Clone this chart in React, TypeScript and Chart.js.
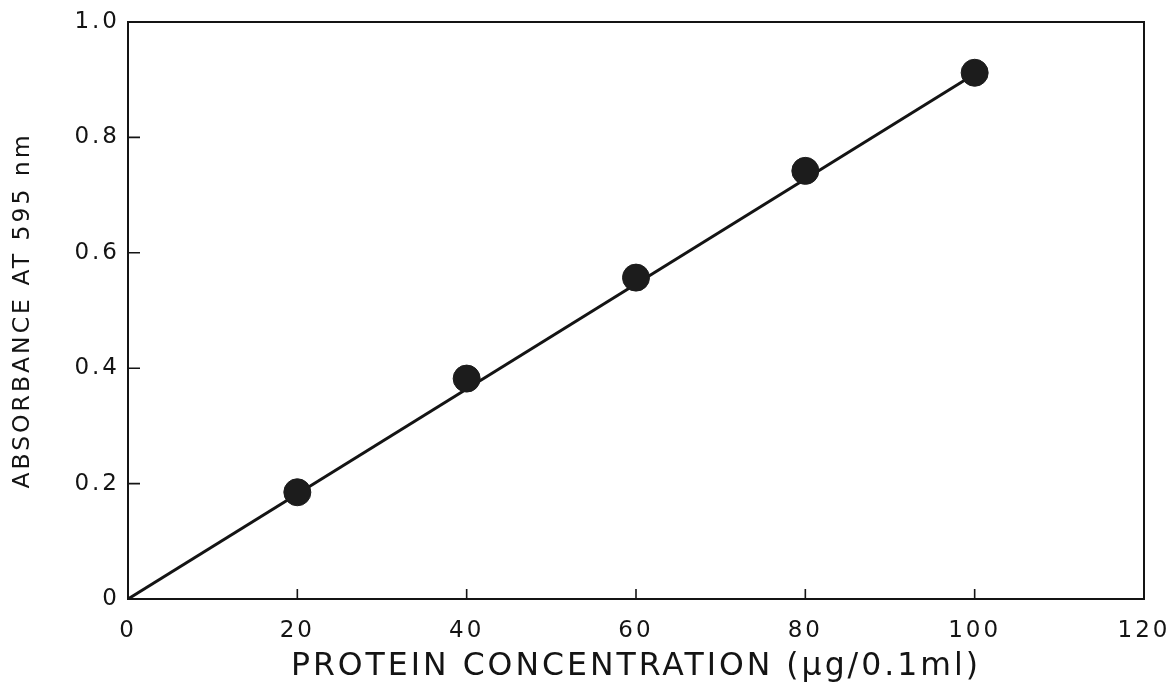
import React, { useEffect, useRef } from "react";
import { Chart, registerables } from "chart.js";

Chart.register(...registerables);

const concentrations = [20, 40, 60, 80, 100];
const absorbances = [0.185, 0.382, 0.557, 0.742, 0.912];
const fitX = [0, 100];
const fitY = [0, 0.91];
const xTickLabels = ["0", "20", "40", "60", "80", "100", "120"];
const yTickLabels = ["0", "0.2", "0.4", "0.6", "0.8", "1.0"];
const xTitle = "PROTEIN CONCENTRATION (\u00b5g/0.1ml)";
const yTitle = "ABSORBANCE AT 595 nm";

const INK = "#141414";
const FONT = "'DejaVu Sans', sans-serif";

const framePlugin = {
  id: "frame",
  beforeDraw(chart: any) {
    const ctx = chart.ctx;
    ctx.fillStyle = "#ffffff";
    ctx.fillRect(0, 0, chart.width, chart.height);
    (ctx as any).letterSpacing = "3px";
  },
  afterDraw(chart: any) {
    const ctx = chart.ctx;
    const a = chart.chartArea;
    const xs = chart.scales.x;
    const ys = chart.scales.y;
    ctx.save();
    ctx.strokeStyle = INK;
    ctx.lineWidth = 2;
    ctx.strokeRect(a.left, a.top, a.right - a.left, a.bottom - a.top);
    ctx.lineWidth = 1.6;
    ctx.beginPath();
    for (let v = 20; v <= 100; v += 20) {
      const px = xs.getPixelForValue(v);
      ctx.moveTo(px, a.bottom);
      ctx.lineTo(px, a.bottom - 10);
    }
    for (let v = 0.2; v <= 0.81; v += 0.2) {
      const py = ys.getPixelForValue(v);
      ctx.moveTo(a.left, py);
      ctx.lineTo(a.left + 12, py);
    }
    ctx.stroke();
    ctx.restore();
  },
};

export default function App() {
  const ref = useRef<HTMLCanvasElement>(null);
  useEffect(() => {
    if (!ref.current) return;
    const chart = new Chart(ref.current, {
      type: "scatter",
      data: {
        datasets: [
          {
            label: "fit",
            data: fitX.map((x, i) => ({ x, y: fitY[i] })),
            showLine: true,
            borderColor: INK,
            borderWidth: 3,
            pointRadius: 0,
            order: 2,
          },
          {
            label: "data",
            data: concentrations.map((x, i) => ({ x, y: absorbances[i] })),
            showLine: false,
            backgroundColor: "#1c1c1c",
            borderColor: "#1c1c1c",
            pointRadius: 13.5,
            pointBorderWidth: 1,
            order: 1,
          },
        ],
      },
      options: {
        animation: false,
        responsive: false,
        maintainAspectRatio: false,
        layout: { padding: { left: 0, right: 32, top: 22, bottom: 0 } },
        plugins: { legend: { display: false }, tooltip: { enabled: false } },
        scales: {
          x: {
            type: "linear",
            min: 0,
            max: 120,
            grid: { display: false, drawTicks: false },
            border: { display: false },
            ticks: {
              stepSize: 20,
              padding: 18,
              color: INK,
              font: { family: FONT, size: 23 },
              callback: (_v: any, i: number) => xTickLabels[i],
            },
            title: {
              display: true,
              text: xTitle,
              color: INK,
              font: { family: FONT, size: 31.5 },
              padding: { top: 0, bottom: 2 },
            },
            afterFit: (s: any) => {
              s.height = 89;
              s.paddingLeft = 0;
              s.paddingRight = 0;
            },
          },
          y: {
            type: "linear",
            min: 0,
            max: 1,
            grid: { display: false, drawTicks: false },
            border: { display: false },
            ticks: {
              stepSize: 0.2,
              padding: 8,
              color: INK,
              font: { family: FONT, size: 23 },
              callback: (_v: any, i: number) => yTickLabels[i],
            },
            title: {
              display: true,
              text: yTitle,
              color: INK,
              font: { family: FONT, size: 23.5 },
              padding: { top: 9, bottom: 0 },
            },
            afterFit: (s: any) => {
              s.width = 128;
              s.paddingTop = 0;
              s.paddingBottom = 0;
            },
          },
        },
      },
      plugins: [framePlugin],
    });
    return () => chart.destroy();
  }, []);
  return (
    <div style={{ position: "fixed", left: 0, top: 0, width: 1176, height: 688, background: "#fff" }}>
      <canvas ref={ref} width={1176} height={688} style={{ width: 1176, height: 688, display: "block" }} />
    </div>
  );
}
